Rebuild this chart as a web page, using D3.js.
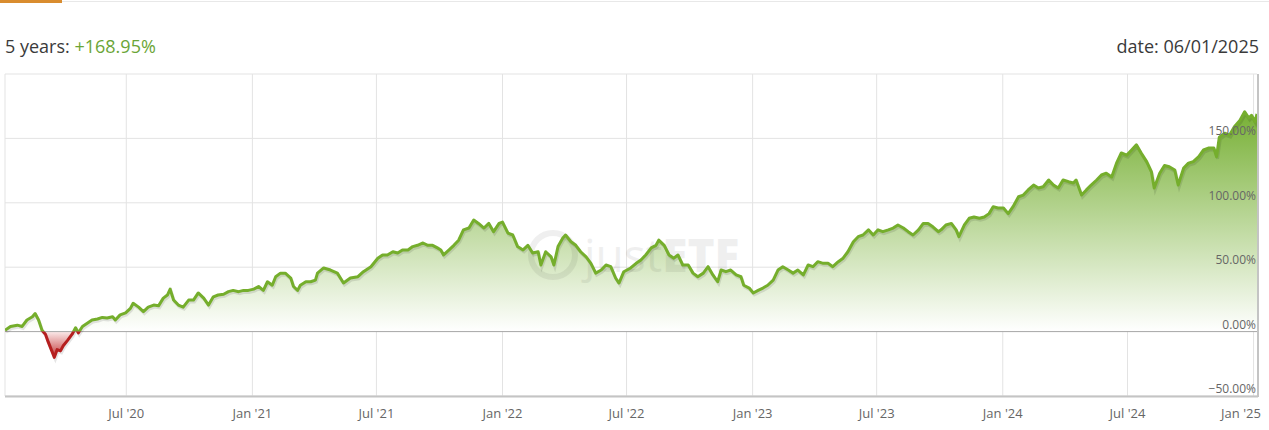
<!DOCTYPE html>
<html>
<head>
<meta charset="utf-8">
<script src="https://cdn.jsdelivr.net/npm/d3@7"></script>
<style>
  body { margin: 0; background: #fff; font-family: "Open Sans", sans-serif; }
</style>
</head>
<body>
<div id="perfChart"></div>
<script>
// performance values (percent since start)
const dates = [
  '2020-01-06', '2020-01-14', '2020-01-24', '2020-01-31', '2020-02-07', '2020-02-15', '2020-02-19', '2020-02-24',
  '2020-02-29', '2020-03-05', '2020-03-09', '2020-03-15', '2020-03-18', '2020-03-22', '2020-03-27', '2020-03-31',
  '2020-04-06', '2020-04-13', '2020-04-18', '2020-04-22', '2020-04-28', '2020-05-05', '2020-05-12', '2020-05-20',
  '2020-05-27', '2020-06-03', '2020-06-11', '2020-06-15', '2020-06-22', '2020-06-30', '2020-07-07', '2020-07-11',
  '2020-07-19', '2020-07-26', '2020-08-02', '2020-08-10', '2020-08-17', '2020-08-24', '2020-08-30', '2020-09-03',
  '2020-09-08', '2020-09-15', '2020-09-22', '2020-09-30', '2020-10-07', '2020-10-14', '2020-10-22', '2020-10-29',
  '2020-11-05', '2020-11-12', '2020-11-20', '2020-11-27', '2020-12-04', '2020-12-12', '2020-12-19', '2020-12-26',
  '2021-01-03', '2021-01-10', '2021-01-17', '2021-01-23', '2021-01-30', '2021-02-04', '2021-02-11', '2021-02-18',
  '2021-02-26', '2021-03-02', '2021-03-08', '2021-03-12', '2021-03-20', '2021-03-27', '2021-04-03', '2021-04-06',
  '2021-04-15', '2021-04-25', '2021-05-05', '2021-05-14', '2021-05-24', '2021-06-04', '2021-06-12', '2021-06-23',
  '2021-07-03', '2021-07-10', '2021-07-17', '2021-07-25', '2021-08-01', '2021-08-08', '2021-08-16', '2021-08-23',
  '2021-08-30', '2021-09-07', '2021-09-14', '2021-09-21', '2021-09-28', '2021-10-03', '2021-10-07', '2021-10-15',
  '2021-10-22', '2021-10-29', '2021-11-05', '2021-11-13', '2021-11-20', '2021-11-27', '2021-12-05', '2021-12-12',
  '2021-12-19', '2021-12-27', '2022-01-01', '2022-01-09', '2022-01-16', '2022-01-23', '2022-01-31', '2022-02-07',
  '2022-02-14', '2022-02-22', '2022-02-26', '2022-03-05', '2022-03-13', '2022-03-17', '2022-03-23', '2022-03-30',
  '2022-04-03', '2022-04-11', '2022-04-18', '2022-04-25', '2022-05-03', '2022-05-10', '2022-05-17', '2022-05-25',
  '2022-06-01', '2022-06-08', '2022-06-15', '2022-06-20', '2022-06-27', '2022-07-07', '2022-07-15', '2022-07-22',
  '2022-07-29', '2022-08-06', '2022-08-13', '2022-08-17', '2022-08-25', '2022-09-01', '2022-09-08', '2022-09-14',
  '2022-09-21', '2022-09-29', '2022-10-06', '2022-10-13', '2022-10-21', '2022-10-28', '2022-11-04', '2022-11-11',
  '2022-11-16', '2022-11-23', '2022-11-30', '2022-12-08', '2022-12-15', '2022-12-19', '2022-12-27', '2023-01-02',
  '2023-01-09', '2023-01-16', '2023-01-23', '2023-01-31', '2023-02-07', '2023-02-14', '2023-02-22', '2023-03-01',
  '2023-03-08', '2023-03-16', '2023-03-23', '2023-03-30', '2023-04-06', '2023-04-14', '2023-04-21', '2023-04-28',
  '2023-05-06', '2023-05-13', '2023-05-20', '2023-05-28', '2023-06-04', '2023-06-11', '2023-06-19', '2023-06-26',
  '2023-07-03', '2023-07-10', '2023-07-18', '2023-07-25', '2023-08-01', '2023-08-09', '2023-08-16', '2023-08-23',
  '2023-08-31', '2023-09-07', '2023-09-14', '2023-09-21', '2023-09-29', '2023-10-03', '2023-10-10', '2023-10-18',
  '2023-10-25', '2023-10-29', '2023-11-06', '2023-11-13', '2023-11-20', '2023-11-28', '2023-12-05', '2023-12-12',
  '2023-12-18', '2023-12-25', '2024-01-02', '2024-01-09', '2024-01-16', '2024-01-24', '2024-01-31', '2024-02-07',
  '2024-02-15', '2024-02-22', '2024-02-29', '2024-03-08', '2024-03-15', '2024-03-22', '2024-03-29', '2024-04-06',
  '2024-04-13', '2024-04-17', '2024-04-25', '2024-05-02', '2024-05-09', '2024-05-17', '2024-05-24', '2024-05-31',
  '2024-06-08', '2024-06-15', '2024-06-22', '2024-06-30', '2024-07-07', '2024-07-14', '2024-07-21', '2024-07-29',
  '2024-08-05', '2024-08-09', '2024-08-17', '2024-08-24', '2024-08-31', '2024-09-08', '2024-09-13', '2024-09-21',
  '2024-09-28', '2024-10-05', '2024-10-13', '2024-10-20', '2024-10-27', '2024-11-04', '2024-11-08', '2024-11-12',
  '2024-11-20', '2024-11-27', '2024-12-04', '2024-12-12', '2024-12-19', '2024-12-25', '2024-12-29', '2025-01-03',
  '2025-01-06',
];
const values = [
  1, 4, 5, 4, 9, 11.5, 14, 9,
  1, -2, -8, -16, -20, -14, -15, -11,
  -7, -2, 3, -1, 4, 6.5, 9, 9.8,
  11, 10.5, 11.5, 9, 13, 14.5, 18, 22,
  19, 15.5, 19, 20.6, 20, 26, 28.4, 33,
  24.5, 20.6, 19, 24.5, 24.5, 30, 26, 20.6,
  27, 28.4, 29, 31, 32, 31, 32, 32,
  33, 35, 32, 38.7, 36, 42.6, 45.4, 45.4,
  41.6, 35, 32, 36, 38.7, 38.7, 40, 45.4,
  49.4, 47.8, 45.4, 37.7, 41.6, 42.6, 46.5, 50.4,
  57, 59.5, 59.5, 62, 61, 63.4, 63.4, 66,
  67, 68.8, 67, 67, 65, 63.4, 59.5, 63.4,
  67, 71, 79, 80.4, 86.6, 84, 80.4, 84,
  77.6, 84, 85, 76.5, 75, 66, 63.4, 67,
  61, 62, 51.7, 62, 58, 51.7, 66, 72.7,
  75, 69.8, 67, 62, 58, 53, 45.4, 47.8,
  51.7, 50.4, 41.6, 37.7, 46.5, 49.4, 53, 55.6,
  59.5, 65, 67, 71, 67, 59.5, 57, 59.5,
  51.7, 51.7, 45.4, 42.6, 45.4, 50.4, 44, 38.7,
  47.8, 46.5, 47.8, 44, 42.6, 36, 33.8, 30,
  32, 33.8, 36, 40, 47.8, 50.4, 47.8, 45.4,
  47.8, 44, 51.7, 50.4, 54.3, 53, 53, 50.4,
  54.3, 57, 62, 69.8, 73.7, 75, 79, 75,
  79, 77.6, 79, 80.4, 82.8, 80.4, 77.6, 75,
  79, 84, 84, 81.4, 77.6, 79, 82.8, 84,
  79, 73.7, 82.8, 88, 89, 88, 89, 91.6,
  97, 96, 96, 91.6, 97, 104.7, 106, 110,
  113.8, 111.5, 112.5, 117.7, 113.8, 111.5, 117.7, 116.4,
  115.4, 117.7, 106, 110, 113.8, 117.7, 121.6, 123,
  120, 130.8, 138.7, 137, 141, 145, 138.7, 132,
  124, 111.5, 123, 129, 128, 125.5, 113.8, 127,
  130.8, 132, 135.8, 141, 142.5, 142.5, 135.8, 151,
  154, 152.6, 159, 164, 170.7, 165.8, 168, 163,
  168.95,
];

// axis ticks
const yTicks = [-50, 0, 50, 100, 150];
const xTicks = [
  '2020-07-01', '2021-01-01', '2021-07-01', '2022-01-01', '2022-07-01',
  '2023-01-01', '2023-07-01', '2024-01-01', '2024-07-01', '2025-01-01',
];
const yDomain = [-50, 200];
const xDomain = ['2020-01-06', '2025-01-06'];

// header texts
const periodLabel = '5 years: ';
const periodReturn = '+168.95%';
const dateLabel = 'date: 06/01/2025';

const width = 1269;
const height = 430;
const plot = { left: 5, right: 1257, top: 74, bottom: 396 };

const parseDate = d3.timeParse('%Y-%m-%d');
const data = dates.map((d, i) => ({ date: parseDate(d), value: values[i] }));

const xScale = d3.scaleTime()
  .domain(xDomain.map(parseDate))
  .range([plot.left, plot.right]);
const yScale = d3.scaleLinear()
  .domain(yDomain)
  .range([plot.bottom, plot.top]);

const green = '#75ae2c';
const red = '#b51f1f';

const svg = d3.select('#perfChart')
  .append('svg')
  .attr('width', width)
  .attr('height', height);

// tab strip at the very top
svg.append('line')
  .attr('x1', 0).attr('x2', width)
  .attr('y1', 1.5).attr('y2', 1.5)
  .attr('stroke', '#e8e8e8');
svg.append('rect')
  .attr('x', 0).attr('y', 0)
  .attr('width', 62).attr('height', 3)
  .attr('fill', '#d98c2f');

// header
const head = svg.append('text')
  .attr('x', 5)
  .attr('y', 53)
  .attr('font-size', 18)
  .attr('fill', '#3a3a3a');
head.append('tspan').text(periodLabel);
head.append('tspan').attr('fill', '#6aa536').text(periodReturn);

svg.append('text')
  .attr('x', 1259)
  .attr('y', 53)
  .attr('text-anchor', 'end')
  .attr('font-size', 18)
  .attr('fill', '#3a3a3a')
  .text(dateLabel);

// gradients + clips
const defs = svg.append('defs');
const gain = defs.append('linearGradient')
  .attr('id', 'gainFill')
  .attr('gradientUnits', 'userSpaceOnUse')
  .attr('x1', 0).attr('x2', 0)
  .attr('y1', yScale(175)).attr('y2', yScale(0));
gain.append('stop').attr('offset', 0).attr('stop-color', '#74ae30');
gain.append('stop').attr('offset', 1).attr('stop-color', '#ffffff');

const loss = defs.append('linearGradient')
  .attr('id', 'lossFill')
  .attr('gradientUnits', 'userSpaceOnUse')
  .attr('x1', 0).attr('x2', 0)
  .attr('y1', yScale(0)).attr('y2', yScale(-20));
loss.append('stop').attr('offset', 0).attr('stop-color', '#fbeaea');
loss.append('stop').attr('offset', 1).attr('stop-color', '#c43a3a');

defs.append('clipPath').attr('id', 'clipAbove')
  .append('rect')
  .attr('x', plot.left).attr('y', plot.top)
  .attr('width', plot.right - plot.left)
  .attr('height', yScale(0) - plot.top);
defs.append('clipPath').attr('id', 'clipBelow')
  .append('rect')
  .attr('x', plot.left).attr('y', yScale(0))
  .attr('width', plot.right - plot.left)
  .attr('height', plot.bottom - yScale(0));

// grid
svg.append('g')
  .selectAll('line')
  .data(xTicks.map(parseDate))
  .enter()
  .append('line')
  .attr('x1', d => xScale(d)).attr('x2', d => xScale(d))
  .attr('y1', plot.top).attr('y2', plot.bottom)
  .attr('stroke', '#e3e3e3');
svg.append('g')
  .selectAll('line')
  .data(yTicks.filter(t => t !== 0).concat([yDomain[1]]))
  .enter()
  .append('line')
  .attr('x1', plot.left).attr('x2', plot.right)
  .attr('y1', d => yScale(d)).attr('y2', d => yScale(d))
  .attr('stroke', '#e3e3e3');
svg.append('line')
  .attr('x1', plot.left).attr('x2', plot.left)
  .attr('y1', plot.top).attr('y2', plot.bottom)
  .attr('stroke', '#e3e3e3');

// areas
const area = d3.area()
  .x(d => xScale(d.date))
  .y0(yScale(0))
  .y1(d => yScale(d.value));

svg.append('path')
  .datum(data)
  .attr('clip-path', 'url(#clipAbove)')
  .attr('fill', 'url(#gainFill)')
  .attr('d', area);
svg.append('path')
  .datum(data)
  .attr('clip-path', 'url(#clipBelow)')
  .attr('fill', 'url(#lossFill)')
  .attr('d', area);

// watermark
const mark = svg.append('g').attr('opacity', 0.06);
mark.append('circle')
  .attr('cx', 553).attr('cy', 255).attr('r', 22)
  .attr('fill', 'none')
  .attr('stroke', '#000')
  .attr('stroke-width', 6);
const markText = mark.append('text')
  .attr('x', 584).attr('y', 272)
  .attr('font-size', 46)
  .attr('font-family', 'Open Sans, sans-serif')
  .attr('fill', '#000');
markText.append('tspan').attr('font-weight', 400).text('just');
markText.append('tspan').attr('font-weight', 800).text('ETF');

// zero line
svg.append('line')
  .attr('x1', plot.left).attr('x2', plot.right)
  .attr('y1', yScale(0)).attr('y2', yScale(0))
  .attr('stroke', '#a6a6a6');

// line with shadow
const line = d3.line()
  .x(d => xScale(d.date))
  .y(d => yScale(d.value));

svg.append('path')
  .datum(data)
  .attr('transform', 'translate(1,2)')
  .attr('fill', 'none')
  .attr('stroke', '#000')
  .attr('stroke-opacity', 0.1)
  .attr('stroke-width', 3)
  .attr('d', line);
svg.append('path')
  .datum(data)
  .attr('clip-path', 'url(#clipAbove)')
  .attr('fill', 'none')
  .attr('stroke', green)
  .attr('stroke-width', 3)
  .attr('stroke-linejoin', 'round')
  .attr('d', line);
svg.append('path')
  .datum(data)
  .attr('clip-path', 'url(#clipBelow)')
  .attr('fill', 'none')
  .attr('stroke', red)
  .attr('stroke-width', 3)
  .attr('stroke-linejoin', 'round')
  .attr('d', line);

// borders
svg.append('line')
  .attr('x1', plot.left).attr('x2', plot.right + 1)
  .attr('y1', plot.bottom + 0.5).attr('y2', plot.bottom + 0.5)
  .attr('stroke', '#c4c4c4')
  .attr('stroke-width', 2);
svg.append('line')
  .attr('x1', plot.right + 1).attr('x2', plot.right + 1)
  .attr('y1', plot.top).attr('y2', plot.bottom + 1)
  .attr('stroke', '#c4c4c4')
  .attr('stroke-width', 2);

// y labels inside the plot, right aligned
const fmt = d3.format('.2f');
svg.append('g')
  .selectAll('text')
  .data(yTicks)
  .enter()
  .append('text')
  .attr('x', plot.right - 1)
  .attr('y', d => yScale(d) - 3)
  .attr('text-anchor', 'end')
  .attr('font-size', 12)
  .attr('fill', '#666')
  .text(d => `${fmt(d)}%`);

// x labels, the last one is pulled in so it stays inside the plot
const fmtX = d3.timeFormat("%b '%y");
svg.append('g')
  .selectAll('text')
  .data(xTicks.map(parseDate))
  .enter()
  .append('text')
  .attr('x', d => Math.min(xScale(d), plot.right - 16))
  .attr('y', 418)
  .attr('text-anchor', 'middle')
  .attr('font-size', 13)
  .attr('fill', '#666')
  .text(d => fmtX(d));
</script>
</body>
</html>
